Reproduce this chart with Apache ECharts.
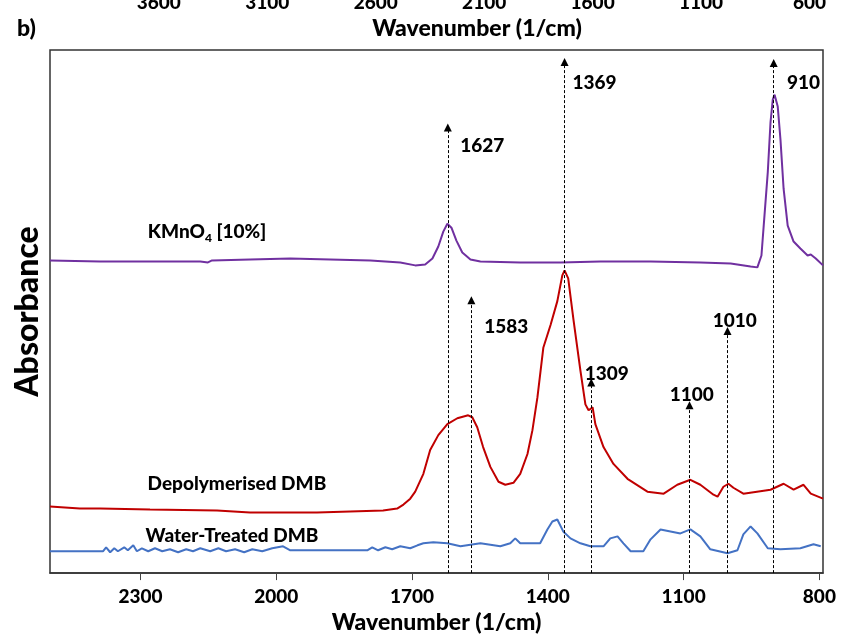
<!DOCTYPE html>
<html>
<head>
<meta charset="utf-8">
<script src="https://cdn.jsdelivr.net/npm/echarts@6/dist/echarts.min.js"></script>
<style>html,body{margin:0;padding:0;background:#fff}#c{width:843px;height:639px}</style>
</head>
<body>
<div id="c"></div>
<script>
// ---- Data ----
// KMnO4 [10%] spectrum (wavenumber, offset absorbance a.u.)
const wnKMnO4 = [2500,2389,2279,2168,2151,2142,2058,1969,1881,1792,1726,1693,1671,1655,1642,1631,1622,1613,1602,1589,1571,1549,1461,1372,1284,1173,1063,996,952,937,928,923,914,908,903,899,892,886,879,870,857,842,826,819,808,792];
const absKMnO4 = [315,314,314,314,313,315,316,317,316,315,313,310,311,317,329,344,352,348,335,323,316,314,313,313,314,314,313,312,309,308,320,350,404,454,477,482,470,437,387,350,334,327,320,321,317,310];
// Depolymerised DMB
const wnDepol = [2500,2434,2389,2279,2131,2058,1985,1910,1837,1764,1733,1719,1704,1693,1675,1660,1642,1622,1600,1576,1567,1556,1543,1527,1509,1494,1476,1461,1445,1434,1423,1410,1394,1379,1368,1363,1355,1343,1328,1317,1310,1301,1295,1277,1255,1224,1180,1144,1114,1085,1063,1034,1025,1012,1001,990,968,908,879,857,835,819,792];
const absDepol = [67,65,65,64,63,61,61,61,62,63,65,69,75,82,100,124,139,150,156,159,157,147,127,107,92,89,91,100,120,144,177,227,250,274,300,305,297,254,204,170,164,167,150,127,110,95,82,80,89,94,89,79,77,87,90,86,80,84,90,84,89,80,75];
// Water-Treated DMB
const wnWater = [2500,2383,2376,2367,2358,2350,2336,2328,2316,2308,2297,2283,2268,2252,2235,2217,2199,2184,2168,2146,2128,2111,2091,2071,2053,2031,2009,1985,1969,1925,1881,1837,1799,1788,1775,1759,1744,1726,1704,1688,1675,1653,1622,1593,1549,1505,1483,1472,1461,1417,1401,1390,1379,1366,1350,1328,1306,1277,1262,1246,1233,1217,1189,1173,1151,1129,1107,1085,1063,1041,1003,981,968,952,937,914,886,842,813,797];
const absWater = [22,22,26,21,25,22,26,23,28,22,25,22,25,22,24,21,24,22,25,22,25,22,24,21,24,22,25,27,23,23,23,23,23,26,23,26,24,27,25,28,30,31,30,27,30,27,30,35,30,30,44,52,54,42,35,30,27,27,35,37,30,22,22,34,44,42,40,44,37,24,20,23,39,47,40,25,24,25,29,27];

// Peak markers: drawn position (wavenumber), arrow tip height, label text
const peakWn   = [1621, 1363, 901, 1569, 1304, 1087, 1003];
const peakTop  = [449, 515, 514, 275, 192, 169, 244];
const peakText = ['1627', '1369', '910', '1583', '1309', '1100', '1010'];
// Peak label anchor (wavenumber, height)
const peakLabelWn = [1545, 1297, 835, 1492, 1270, 1082, 987];
const peakLabelY  = [430, 494, 494, 248, 201, 180, 254];

// Series names and their label anchors
const seriesNames = ['KMnO4 [10%]', 'Depolymerised DMB', 'Water-Treated DMB'];
const seriesLabelWn = [2153, 2087, 2098];
const seriesLabelY  = [344, 90, 38];

// Axis ticks
const bottomTicks = [800, 1100, 1400, 1700, 2000, 2300];
const topTicks = [600, 1100, 1600, 2100, 2600, 3100, 3600];

const colors = ['#7030A0', '#C00000', '#4472C4'];
const FONT = 'Lato';
const W = 900;

function zip(a, b) { return a.map((v, i) => [v, b[i]]); }

const chart = echarts.init(document.getElementById('c'), null, {renderer: 'canvas'});

const lineSeries = [
  [wnKMnO4, absKMnO4], [wnDepol, absDepol], [wnWater, absWater]
].map((d, i) => ({
  type: 'line', name: seriesNames[i], data: zip(d[0], d[1]),
  showSymbol: false, symbol: 'none', smooth: false,
  lineStyle: {color: colors[i], width: 2}, z: 3, silent: true
}));

const txt = {fontFamily: FONT, fontWeight: W, fontSize: 19, color: '#000', opacity: 1};

const option = {
  animation: false,
  backgroundColor: '#fff',
  textStyle: {fontFamily: FONT},
  title: {text: 'b)', left: 12, top: 12, textStyle: {fontFamily: FONT, fontWeight: W, fontSize: 23, color: '#000'}},
  grid: [
    {left: 50, right: 20, top: 50, bottom: 62, show: true, borderColor: '#333', borderWidth: 1.5, backgroundColor: 'transparent'},
    {left: 131, right: 20, top: -35, height: 20, show: false}
  ],
  xAxis: [
    {
      gridIndex: 0, type: 'value', min: 792, max: 2500, inverse: true,
      axisLine: {show: true, lineStyle: {color: '#333', width: 1.5}},
      axisTick: {show: true, inside: false, length: 7, customValues: bottomTicks, lineStyle: {color: '#444', width: 1}},
      axisLabel: Object.assign({customValues: bottomTicks, margin: 14, formatter: v => String(v)}, txt),
      splitLine: {show: false},
      name: 'Wavenumber (1/cm)', nameLocation: 'middle', nameGap: 33,
      nameTextStyle: {fontFamily: FONT, fontWeight: W, fontSize: 23, color: '#000'}
    },
    {
      gridIndex: 1, type: 'value', min: 538, max: 3728, inverse: true, position: 'bottom',
      axisLine: {show: false}, axisTick: {show: false}, splitLine: {show: false},
      axisLabel: Object.assign({customValues: topTicks, margin: 3, formatter: v => String(v)}, txt),
      name: 'Wavenumber (1/cm)', nameLocation: 'middle', nameGap: 27,
      nameTextStyle: {fontFamily: FONT, fontWeight: W, fontSize: 23, color: '#000'}
    }
  ],
  yAxis: [
    {
      gridIndex: 0, type: 'value', min: 0, max: 527,
      axisLine: {show: false}, axisTick: {show: false}, axisLabel: {show: false}, splitLine: {show: false},
      name: 'Absorbance', nameLocation: 'middle', nameGap: 6,
      nameTextStyle: {fontFamily: FONT, fontWeight: W, fontSize: 32, color: '#000'}
    },
    {gridIndex: 1, type: 'value', show: false}
  ],
  series: [
    ...lineSeries,
    {
      type: 'lines', coordinateSystem: 'cartesian2d', xAxisIndex: 0, yAxisIndex: 0,
      data: peakWn.map((w, i) => ({coords: [[w, 0], [w, peakTop[i]]]})),
      symbol: ['none', 'triangle'], symbolSize: [0, 8],
      lineStyle: {color: '#000', width: 1, type: [3, 2], opacity: 1},
      z: 4, silent: true
    },
    {
      type: 'scatter', symbolSize: 0, silent: true, z: 5,
      itemStyle: {opacity: 1},
      data: peakLabelWn.map((w, i) => [w, peakLabelY[i], peakText[i]]),
      label: Object.assign({show: true, position: 'inside', formatter: p => p.data[2]}, txt)
    },
    {
      type: 'scatter', symbolSize: 0, silent: true, z: 5,
      itemStyle: {opacity: 1},
      data: seriesLabelWn.map((w, i) => [w, seriesLabelY[i], seriesNames[i]]),
      label: {show: true, position: 'inside', opacity: 1,
        formatter: p => p.data[2] === 'KMnO4 [10%]' ? '{a|KMnO}{s|4}{a| [10%]}' : '{a|' + p.data[2] + '}',
        rich: {
          a: {fontFamily: FONT, fontWeight: W, fontSize: 19, color: '#000', lineHeight: 24},
          s: {fontFamily: FONT, fontWeight: W, fontSize: 12, color: '#000', lineHeight: 24, verticalAlign: 'bottom'}
        }
      }
    }
  ]
};
chart.setOption(option);
</script>
</body>
</html>
